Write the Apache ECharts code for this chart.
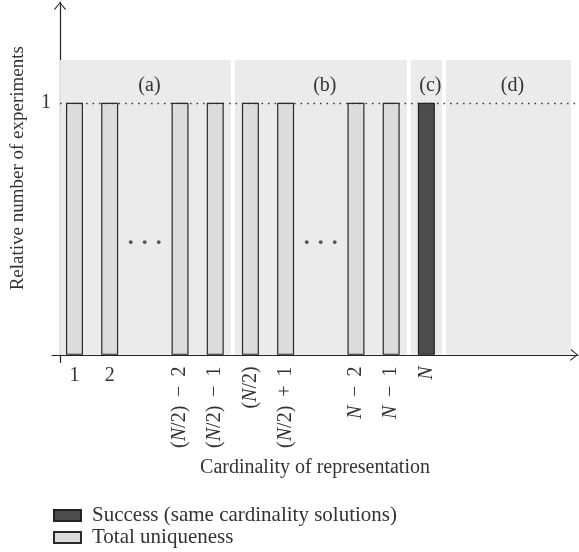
<!DOCTYPE html>
<html>
<head>
<meta charset="utf-8">
<script src="https://cdn.jsdelivr.net/npm/echarts@6/dist/echarts.min.js"></script>
<style>html,body{margin:0;padding:0;background:#fff}#c{width:579px;height:552px}</style>
</head>
<body>
<div id="c"></div>
<script>
// ---- data ----
const slots = [1, 2, 4, 5, 6, 7, 9, 10, 11];
const tickLabels = ['1', '2', '(N/2) − 2', '(N/2) − 1', '(N/2)', '(N/2) + 1', 'N − 2', 'N − 1', 'N'];
const uniqueness = [1, 1, 1, 1, 1, 1, 1, 1, null];
const success = [null, null, null, null, null, null, null, null, 1];
const ellipsisSlots = [3, 8];
const ellipsisLevel = 0.44;
const regionNames = ['(a)', '(b)', '(c)', '(d)'];
const regionEdges = [5.5, 10.5, 11.5];
const regionEnd = 15.11;
const regionTop = 1.17;
const refLevel = 1;

const xMin = 0.361, xMax = 15.31, yAxisAt = 0.59, halfGap = 0.057;
const font = 'Liberation Serif';

const chevron = 'path://M0,7.3 L6,0 L12,7.3 L11.2,8 L6,1.4 L0.8,8 Z';

const bounds = [yAxisAt].concat(regionEdges).concat([regionEnd]);
const areas = regionNames.map((n, i) => [
  { name: n, xAxis: i === 0 ? bounds[0] : bounds[i] + halfGap, yAxis: 0 },
  { xAxis: i === bounds.length - 2 ? bounds[i + 1] : bounds[i + 1] - halfGap, yAxis: regionTop }
]);

function fmt(v) {
  const i = slots.indexOf(Math.round(v));
  if (i < 0) return '';
  return tickLabels[i].replace(/ /g, ' \u2009').replace('N', '{i|N}');
}
const rich = { i: { fontStyle: 'italic', fontFamily: font, fontSize: 20, color: '#333' } };

const chart = echarts.init(document.getElementById('c'));
chart.setOption({
  animation: false,
  grid: { left: 52, right: 1, top: 2, bottom: 189.6 },
  xAxis: [{
    type: 'value', min: xMin, max: xMax,
    axisLine: { show: true, onZero: true, onZeroAxisIndex: 0, symbol: ['none', chevron], symbolSize: [12, 8], symbolOffset: [0, -4],
      lineStyle: { color: '#222', width: 1.2 } },
    axisTick: { show: false }, splitLine: { show: false },
    axisLabel: { customValues: slots.slice(0, 2), formatter: fmt, rich: rich, margin: 3,
      fontFamily: font, fontSize: 20, color: '#333' },
    name: 'Cardinality of representation', nameLocation: 'middle', nameGap: 95,
    nameTextStyle: { fontFamily: font, fontSize: 20, color: '#333' }
  }, {
    type: 'value', min: xMin, max: xMax, position: 'bottom',
    axisLine: { show: false, onZero: true, onZeroAxisIndex: 0 },
    axisTick: { show: false }, splitLine: { show: false },
    axisLabel: { customValues: slots.slice(2), formatter: fmt, rich: rich, rotate: 90, margin: 4,
      fontFamily: font, fontSize: 20, color: '#333' }
  }],
  yAxis: {
    type: 'value', min: -0.03, max: 1.4, offset: -8,
    axisLine: { show: true, symbol: ['none', chevron], symbolSize: [12, 8], symbolOffset: [0, -4],
      lineStyle: { color: '#222', width: 1.2 } },
    axisTick: { show: false }, splitLine: { show: false },
    axisLabel: { customValues: [refLevel], margin: 9, fontFamily: font, fontSize: 20, color: '#333' },
    name: 'Relative number of experiments', nameLocation: 'middle', nameGap: 32,
    nameTextStyle: { fontFamily: font, fontSize: 19, color: '#333', padding: [0, 0, 0, 28] }
  },
  legend: {
    orient: 'vertical', left: 48, top: 500, height: 60, itemWidth: 27, itemHeight: 11, itemGap: 1,
    icon: 'rect',
    data: ['Success (same cardinality solutions)', 'Total uniqueness'],
    textStyle: { fontFamily: font, fontSize: 21, color: '#333', padding: [0, 0, 0, 6] }
  },
  series: [{
    name: 'Total uniqueness', type: 'bar', barWidth: 17, barGap: '-100%',
    data: slots.map((s, i) => [s, uniqueness[i]]),
    itemStyle: { color: '#dcdcdc', borderColor: '#2a2a2a', borderWidth: 1.2 },
    markArea: {
      silent: true,
      itemStyle: { color: '#ebebeb' },
      label: { show: true, position: 'insideTop', distance: 16, offset: [4, 0],
        fontFamily: font, fontSize: 20, color: '#333' },
      data: areas
    },
    markLine: {
      silent: true, symbol: ['none', 'none'], label: { show: false },
      lineStyle: { type: [1.5, 5], color: '#333', width: 1.3 },
      data: [[{ coord: [yAxisAt, refLevel] }, { coord: [xMax, refLevel] }]]
    }
  }, {
    name: 'Success (same cardinality solutions)', type: 'bar', barWidth: 17, barGap: '-100%',
    data: slots.map((s, i) => [s, success[i]]),
    itemStyle: { color: '#4d4d4d', borderColor: '#222', borderWidth: 1.2 }
  }, {
    type: 'scatter', symbolSize: 0, silent: true,
    data: ellipsisSlots.map(s => [s, ellipsisLevel]),
    label: { show: true, position: 'inside', formatter: '· · ·', fontFamily: font, fontSize: 24,
      fontWeight: 'bold', color: '#333' }
  }]
});
</script>
</body>
</html>
